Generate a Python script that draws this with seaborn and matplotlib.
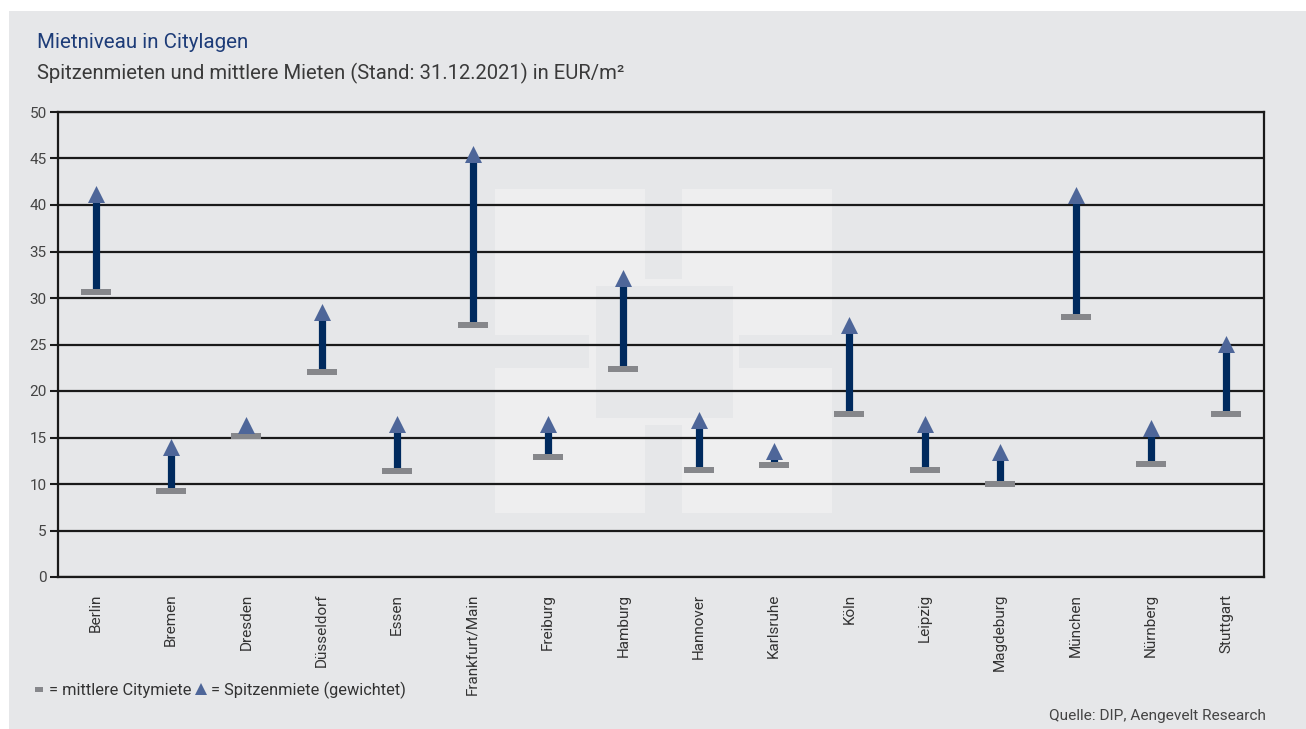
import numpy as np
import pandas as pd
import matplotlib.pyplot as plt
import seaborn as sns
from matplotlib.patches import Rectangle
from matplotlib.lines import Line2D

# Werte in EUR/m2, Stand 31.12.2021
staedte = ["Berlin", "Bremen", "Dresden", "Düsseldorf", "Essen", "Frankfurt/Main",
           "Freiburg", "Hamburg", "Hannover", "Karlsruhe", "Köln", "Leipzig",
           "Magdeburg", "München", "Nürnberg", "Stuttgart"]
mittlere_miete = [30.6, 9.3, 15.2, 22.0, 11.4, 27.1, 12.9, 22.4, 11.5, 12.0,
                  17.5, 11.5, 10.0, 28.0, 12.1, 17.5]
spitzenmiete = [41.2, 14.0, 16.3, 28.5, 16.5, 45.5, 16.5, 32.1, 16.9, 13.5,
                27.1, 16.5, 13.4, 41.1, 16.0, 25.1]
y_ticks = list(range(0, 55, 5))

df = pd.DataFrame({"Stadt": staedte, "mittel": mittlere_miete, "spitze": spitzenmiete})

sns.set_style("white")
plt.rcParams["font.family"] = ["Roboto", "DejaVu Sans"]

W, H = 1306, 729
fig = plt.figure(figsize=(W / 100, H / 100), dpi=100, facecolor="white")

bg = "#e6e7e9"
light = "#eeeeef"
navy = "#002a5e"
tri_col = "#4e6699"
grau = "#86878b"


def px_rect(x0, y0, x1, y1, color, z):
    # rectangle given in pixel coords (top-left origin)
    fig.patches.append(Rectangle((x0 / W, 1 - y1 / H), (x1 - x0) / W, (y1 - y0) / H,
                                 transform=fig.transFigure, color=color, lw=0, zorder=z))


# grey panel
px_rect(9, 11, W, H, bg, -10)
# faint logo in the background
px_rect(495, 189, 832, 513, light, -9)
for r in [(645, 189, 682, 279), (495, 335, 589, 368), (739, 335, 832, 368),
          (596, 286, 733, 418), (645, 425, 682, 513)]:
    px_rect(*r, bg, -8)

ax = fig.add_axes([58 / W, 1 - 577 / H, (1264 - 58) / W, (577 - 112) / H])
ax.patch.set_visible(False)

ax.vlines(df["Stadt"], df["mittel"], df["spitze"], color=navy, lw=5.2, zorder=3)
balken = [(-1, -0.19), (1, -0.19), (1, 0.19), (-1, 0.19), (-1, -0.19)]
sns.scatterplot(data=df, x="Stadt", y="mittel", marker=balken, s=480, color=grau,
                linewidth=0, zorder=4, ax=ax)
sns.scatterplot(data=df, x="Stadt", y="spitze", marker="^", s=150, color=tri_col,
                linewidth=0, zorder=5, ax=ax)

ax.set_xlim(-0.5, len(staedte) - 0.5)
ax.set_ylim(0, 50)
ax.set_yticks(y_ticks)
ax.set_xlabel("")
ax.set_ylabel("")
ax.yaxis.grid(True, color="#1a1a1a", lw=1.6)
ax.set_axisbelow(True)
for s in ax.spines.values():
    s.set_color("#1a1a1a")
    s.set_linewidth(1.6)

ax.set_xticks(range(len(staedte)))
ax.set_xticklabels(staedte, rotation=90, va="top", ha="center")
ax.set_xticks(np.arange(-0.5, len(staedte)), minor=True)
ax.tick_params(axis="x", which="major", length=0, pad=12, labelsize=11, labelcolor="#333333")
ax.tick_params(axis="x", which="minor", direction="inout", length=10, width=1.5, color="#1a1a1a")
ax.tick_params(axis="y", which="major", direction="out", length=6, width=1.5, color="#1a1a1a",
               pad=2, labelsize=11, labelcolor="#444444", left=True)

fig.text(37 / W, 1 - 48 / H, "Mietniveau in Citylagen", color="#1d3c78",
         fontsize=14.8, va="baseline", ha="left")
fig.text(37 / W, 1 - 79 / H, "Spitzenmieten und mittlere Mieten (Stand: 31.12.2021) in EUR/m²",
         color="#3a3a3a", fontsize=14.6, va="baseline", ha="left")
fig.text(1266 / W, 1 - 716 / H, "Quelle: DIP, Aengevelt Research", color="#444444",
         fontsize=11.1, va="center", ha="right")

kaestchen = [(-1, -0.6), (1, -0.6), (1, 0.6), (-1, 0.6), (-1, -0.6)]
handles = [Line2D([], [], ls="none", marker=kaestchen, markersize=6, color=grau, mew=0),
           Line2D([], [], ls="none", marker="^", markersize=9, color=tri_col, mew=0)]
fig.legend(handles, ["= mittlere Citymiete", "= Spitzenmiete (gewichtet)"],
           loc="center left", bbox_to_anchor=(33 / W, 1 - 690 / H), ncol=2,
           frameon=False, handlelength=0.7, handletextpad=0.25, columnspacing=0.25,
           fontsize=11.8, labelcolor="#333333", borderaxespad=0, borderpad=0)

fig.savefig("out.png", dpi=100, facecolor="white")
